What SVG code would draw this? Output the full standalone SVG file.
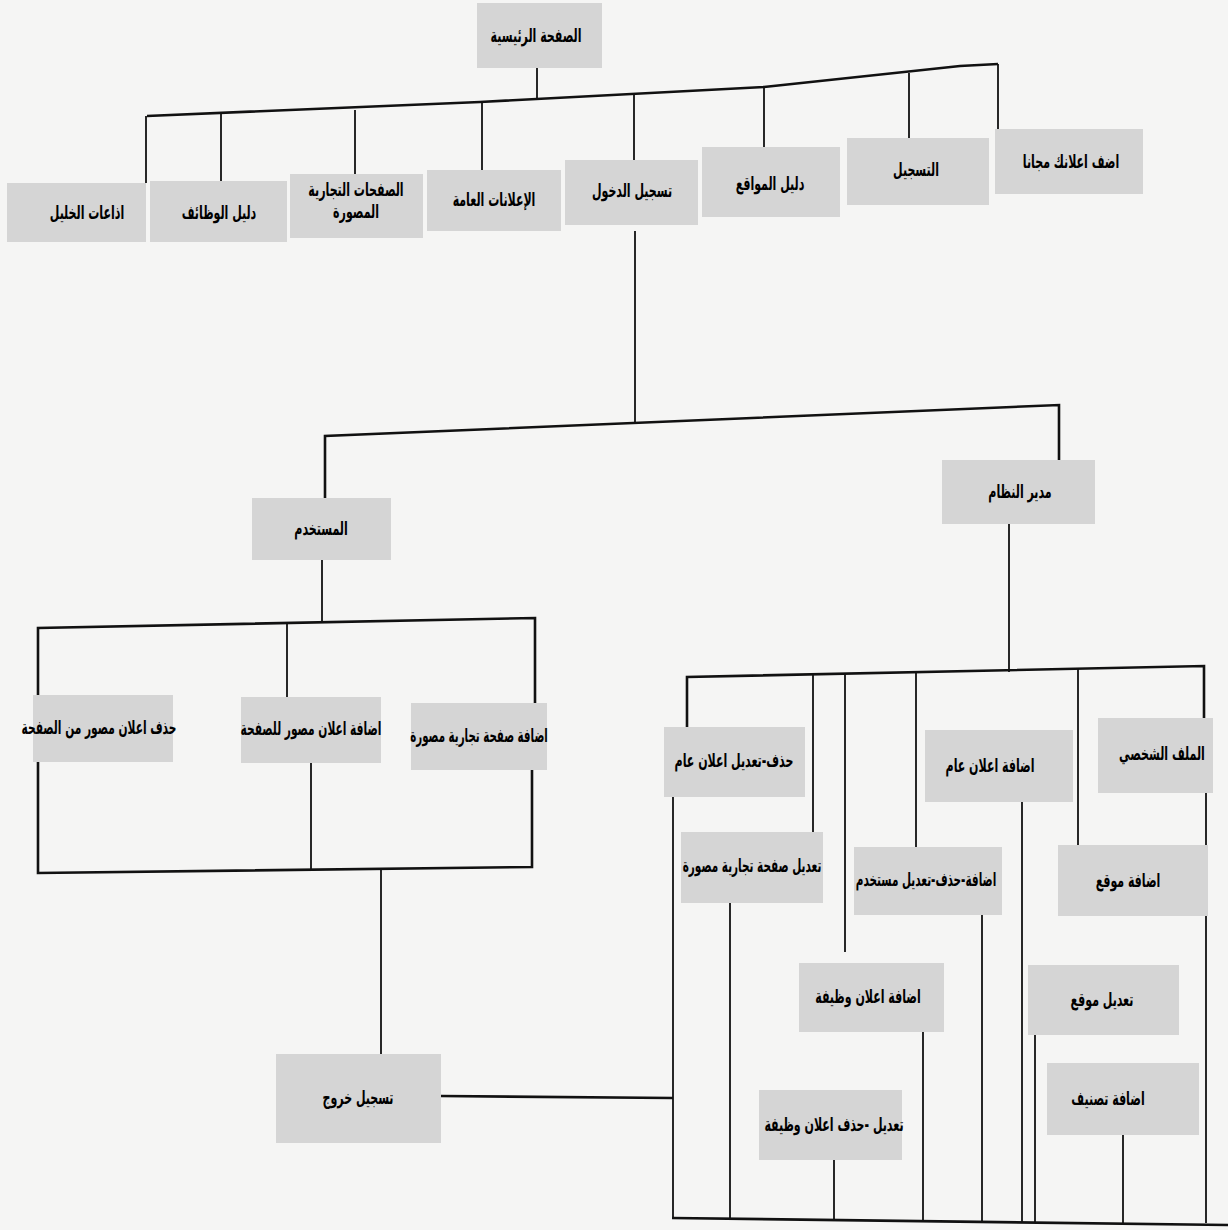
<svg xmlns="http://www.w3.org/2000/svg" width="1228" height="1230" viewBox="0 0 1228 1230">
<style>
.bg{fill:#f5f5f4}
.box{fill:#d5d5d5}
.h{fill:none;stroke:#111;stroke-width:2.6;stroke-linejoin:miter}
.v{fill:none;stroke:#111;stroke-width:1.8}
.t{font-family:"DejaVu Sans",sans-serif;font-weight:bold;font-size:19px;fill:#000;text-anchor:middle}
</style>
<rect class="bg" x="0" y="0" width="1228" height="1230"/>
<g id="connectors">
<line class="v" x1="537" y1="68" x2="537" y2="98"/>
<polyline class="h" points="147,116 480,102 764,87 960,66 998,64"/>
<line class="v" x1="146" y1="116" x2="146" y2="183"/>
<line class="v" x1="221" y1="113" x2="221" y2="181"/>
<line class="v" x1="355" y1="110" x2="355" y2="174"/>
<line class="v" x1="482" y1="102" x2="482" y2="170"/>
<line class="v" x1="634" y1="94" x2="634" y2="160"/>
<line class="v" x1="764" y1="87" x2="764" y2="147"/>
<line class="v" x1="909" y1="73" x2="909" y2="138"/>
<line class="v" x1="998" y1="64" x2="998" y2="129"/>
<line class="v" x1="635" y1="231" x2="635" y2="423"/>
<polyline class="h" points="325,498 325,436 1059,405 1059,460"/>
<line class="v" x1="322" y1="560" x2="322" y2="622"/>
<polyline class="h" points="38,695 38,628 535,618 535,703"/>
<line class="v" x1="287" y1="623" x2="287" y2="697"/>
<polyline class="h" points="38,762 38,873 532,867 532,770"/>
<line class="v" x1="311" y1="763" x2="311" y2="869"/>
<line class="v" x1="381" y1="870" x2="381" y2="1054"/>
<line class="h" x1="441" y1="1096" x2="673" y2="1098"/>
<line class="v" x1="1009" y1="524" x2="1009" y2="672"/>
<polyline class="h" points="687,727 687,677 1204,666 1204,718"/>
<line class="v" x1="813" y1="674" x2="813" y2="832"/>
<line class="v" x1="845" y1="673" x2="845" y2="952"/>
<line class="v" x1="916" y1="672" x2="916" y2="847"/>
<line class="v" x1="1078" y1="669" x2="1078" y2="845"/>
<line class="v" x1="673" y1="797" x2="673" y2="1219"/>
<line class="v" x1="730" y1="903" x2="730" y2="1220"/>
<line class="v" x1="834" y1="1160" x2="834" y2="1221"/>
<line class="v" x1="923" y1="1032" x2="923" y2="1222"/>
<line class="v" x1="982" y1="915" x2="982" y2="1222"/>
<line class="v" x1="1022" y1="802" x2="1022" y2="1222"/>
<line class="v" x1="1035" y1="1035" x2="1035" y2="1222"/>
<line class="v" x1="1123" y1="1135" x2="1123" y2="1223"/>
<line class="v" x1="1206" y1="793" x2="1206" y2="1223"/>
<line class="h" x1="672" y1="1218" x2="1228" y2="1225"/>
</g>
<g id="n-home"><rect class="box" x="477" y="3" width="125" height="65"/><text class="t" transform="translate(536,42) scale(0.58,1)">الصفحة الرئيسية</text></g>
<g id="n-add-free"><rect class="box" x="995" y="129" width="148" height="65"/><text class="t" transform="translate(1071,168) scale(0.58,1)">اضف اعلانك مجانا</text></g>
<g id="n-register"><rect class="box" x="847" y="138" width="142" height="67"/><text class="t" transform="translate(916,176) scale(0.58,1)">التسجيل</text></g>
<g id="n-sites"><rect class="box" x="702" y="147" width="138" height="70"/><text class="t" transform="translate(770,190) scale(0.58,1)">دليل المواقع</text></g>
<g id="n-login"><rect class="box" x="565" y="160" width="133" height="65"/><text class="t" transform="translate(632,197) scale(0.58,1)">تسجيل الدخول</text></g>
<g id="n-public-ads"><rect class="box" x="427" y="170" width="134" height="61"/><text class="t" transform="translate(494,206) scale(0.58,1)">الإعلانات العامة</text></g>
<g id="n-commercial"><rect class="box" x="290" y="174" width="133" height="64"/><text class="t" transform="translate(356,196) scale(0.58,1)">الصفحات التجارية</text><text class="t" transform="translate(356,218) scale(0.58,1)">المصورة</text></g>
<g id="n-jobs"><rect class="box" x="150" y="181" width="137" height="61"/><text class="t" transform="translate(219,219) scale(0.58,1)">دليل الوظائف</text></g>
<g id="n-radios"><rect class="box" x="7" y="183" width="139" height="59"/><text class="t" transform="translate(87,219) scale(0.58,1)">اذاعات الخليل</text></g>
<g id="n-user"><rect class="box" x="252" y="498" width="139" height="62"/><text class="t" transform="translate(321,535) scale(0.58,1)">المستخدم</text></g>
<g id="n-admin"><rect class="box" x="942" y="460" width="153" height="64"/><text class="t" transform="translate(1020,498) scale(0.58,1)">مدير النظام</text></g>
<g id="n-del-img-ad"><rect class="box" x="33" y="695" width="140" height="67"/><text class="t" transform="translate(99,734) scale(0.56,1)">حذف اعلان مصور من الصفحة</text></g>
<g id="n-add-img-ad"><rect class="box" x="241" y="697" width="140" height="66"/><text class="t" transform="translate(311,735) scale(0.56,1)">اضافة اعلان مصور للصفحة</text></g>
<g id="n-add-com-page"><rect class="box" x="411" y="703" width="136" height="67"/><text class="t" transform="translate(479,742) scale(0.54,1)">اضافة صفحة تجارية مصورة</text></g>
<g id="n-logout"><rect class="box" x="276" y="1054" width="165" height="89"/><text class="t" transform="translate(358,1104) scale(0.58,1)">تسجيل خروج</text></g>
<g id="n-del-edit-public"><rect class="box" x="664" y="727" width="141" height="70"/><text class="t" transform="translate(734,767) scale(0.58,1)">حذف-تعديل اعلان عام</text></g>
<g id="n-add-public"><rect class="box" x="925" y="730" width="148" height="72"/><text class="t" transform="translate(990,772) scale(0.58,1)">اضافة اعلان عام</text></g>
<g id="n-profile"><rect class="box" x="1098" y="718" width="115" height="75"/><text class="t" transform="translate(1162,760) scale(0.58,1)">الملف الشخصي</text></g>
<g id="n-edit-com-page"><rect class="box" x="681" y="832" width="142" height="71"/><text class="t" transform="translate(752,872) scale(0.55,1)">تعديل صفحة تجارية مصورة</text></g>
<g id="n-user-crud"><rect class="box" x="854" y="847" width="148" height="68"/><text class="t" transform="translate(926,886) scale(0.55,1)">اضافة-حذف-تعديل مستخدم</text></g>
<g id="n-add-site"><rect class="box" x="1058" y="845" width="150" height="71"/><text class="t" transform="translate(1128,887) scale(0.58,1)">اضافة موقع</text></g>
<g id="n-add-job"><rect class="box" x="799" y="963" width="145" height="69"/><text class="t" transform="translate(868,1003) scale(0.58,1)">اضافة اعلان وظيفة</text></g>
<g id="n-edit-site"><rect class="box" x="1028" y="965" width="151" height="70"/><text class="t" transform="translate(1102,1006) scale(0.58,1)">تعديل موقع</text></g>
<g id="n-add-category"><rect class="box" x="1047" y="1063" width="152" height="72"/><text class="t" transform="translate(1108,1105) scale(0.58,1)">اضافة تصنيف</text></g>
<g id="n-edit-del-job"><rect class="box" x="759" y="1090" width="143" height="70"/><text class="t" transform="translate(834,1131) scale(0.58,1)">تعديل -حذف اعلان وظيفة</text></g>
</svg>
